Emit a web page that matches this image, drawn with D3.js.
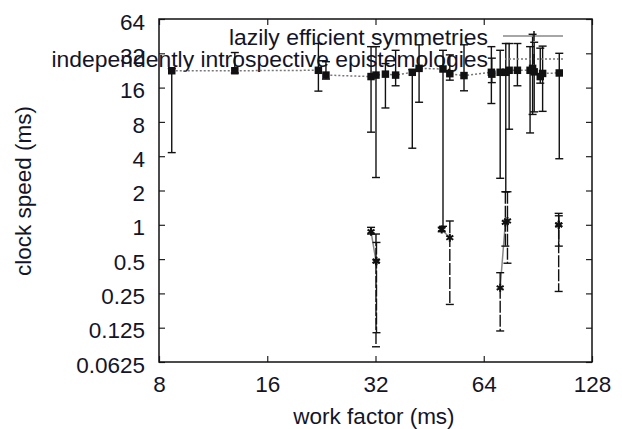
<!DOCTYPE html>
<html>
<head>
<meta charset="utf-8">
<script src="https://cdn.jsdelivr.net/npm/d3@7"></script>
<style>
  body { margin: 0; background: #fff; }
  text { font-family: "Liberation Sans", Arial, sans-serif; fill: #141428; }
</style>
</head>
<body>
<div id="graph"></div>
<script>
// tick values
const xTicks = [8, 16, 32, 64, 128];
const yTicks = [0.0625, 0.125, 0.25, 0.5, 1, 2, 4, 8, 16, 32, 64];

// "independently introspective epistemologies" (squares, dotted line)
const introX  = [8.68, 13.0, 22.2, 23.3, 31.1, 32.1, 34.1, 36.4, 40.5, 42.3, 49.3, 51.5, 56.4, 67.2, 67.4, 71.1, 73.7, 75.3, 79.4, 86.1, 87.5, 88.4, 91.9, 93.3, 103.8];
const introY  = [22.5, 22.5, 22.7, 20.6, 20.0, 20.6, 21.0, 20.6, 21.8, 23.6, 23.3, 21.2, 20.4, 21.8, 21.0, 21.8, 21.8, 22.7, 22.7, 22.7, 23.6, 22.0, 20.0, 21.3, 21.5];
const introHi = [23.5, 32.5, 39, 27, 36.6, 36.6, 26, 34, 23, 38, 34, 31, 38, 36.6, 29, 34, 39, 39, 39, 36.6, 47, 40, 35.5, 37, 32];
const introLo = [4.3, 21.5, 14.9, 19, 6.5, 2.6, 10.6, 16.6, 4.7, 11.9, 0.97, 18.6, 15, 11.6, 17.7, 2.56, 1.95, 6.9, 16.6, 6.4, 9.3, 9.8, 17.5, 9.9, 3.8];

// "lazily efficient symmetries" (solid line, runs separated by blank lines)
const lazyX   = [31.1, 32.1, 32.2, 48.9, 51.5, 71.1, 73.5, 74.5, 103.4, 103.5];
const lazyY   = [0.87, 0.48, 0.48, 0.91, 0.77, 0.28, 1.05, 1.08, 1.0, 1.0];
const lazyHi  = [0.95, 0.83, 0.70, 0.95, 1.08, 0.38, 1.95, 1.95, 1.26, 1.2];
const lazyLo  = [0.83, 0.085, 0.113, 0.87, 0.20, 0.117, 0.65, 0.46, 0.26, 0.65];
const lazyRun = [0, 0, 0, 1, 1, 2, 2, 2, 3, 3];

const labels = ["lazily efficient symmetries", "independently introspective epistemologies"];

let margin = {top: 19, right: 30, bottom: 67, left: 159},
    width = 622 - margin.left - margin.right,
    height = 429 - margin.top - margin.bottom;

let svg = d3.select("#graph").append("svg")
    .attr("width", 622).attr("height", 429)
  .append("g")
    .attr("transform", "translate(" + margin.left + "," + margin.top + ")");

let x = d3.scaleLog().base(2).domain([8, 128]).range([0, width]);
let y = d3.scaleLog().base(2).domain([0.0625, 64]).range([height, 0]);

const fs = "22.5px";

// axes with inward ticks
let gx = svg.append("g").attr("transform", "translate(0," + height + ")")
    .call(d3.axisBottom(x).tickValues(xTicks).tickFormat(d => d).tickSize(-6).tickSizeOuter(0).tickPadding(14));
let gy = svg.append("g")
    .call(d3.axisLeft(y).tickValues(yTicks).tickFormat(d => String(d)).tickSize(-6).tickSizeOuter(0).tickPadding(14));
svg.append("g")
    .call(d3.axisTop(x).tickValues(xTicks).tickFormat("").tickSize(-6).tickSizeOuter(0));
svg.append("g").attr("transform", "translate(" + width + ",0)")
    .call(d3.axisRight(y).tickValues(yTicks).tickFormat("").tickSize(-6).tickSizeOuter(0));

svg.selectAll(".domain").remove();
svg.selectAll(".tick line").attr("stroke", "#222").attr("stroke-width", 1.2);
svg.selectAll(".tick text").style("font-size", fs).attr("fill", "#141428");
gy.selectAll(".tick text").attr("dy", "0.45em");

svg.append("rect").attr("width", width).attr("height", height)
    .attr("fill", "none").attr("stroke", "#111").attr("stroke-width", 1.5);

// axis titles
svg.append("text")
    .attr("transform", "translate(" + (31 - margin.left) + "," + (191 - margin.top) + ") rotate(-90)")
    .attr("text-anchor", "middle").style("font-size", fs)
    .text("clock speed (ms)");
svg.append("text")
    .attr("x", 374 - margin.left).attr("y", 424 - margin.top)
    .attr("text-anchor", "middle").style("font-size", fs)
    .text("work factor (ms)");

// legend text (drawn early so marks sit on top like the original)
svg.append("text").attr("x", 488 - margin.left).attr("y", 45 - margin.top)
    .attr("text-anchor", "end").style("font-size", "22.9px").text(labels[0]);
svg.append("text").attr("x", 488 - margin.left).attr("y", 67 - margin.top)
    .attr("text-anchor", "end").style("font-size", "22.9px").text(labels[1]);

const cap = 4;
function errorBars(g, xs, lo, hi, dash) {
  xs.forEach((xv, i) => {
    let px = x(xv), y1 = y(hi[i]), y2 = y(lo[i]);
    g.append("line").attr("x1", px).attr("x2", px).attr("y1", y1).attr("y2", y2)
      .attr("stroke", "#111").attr("stroke-width", 1.4).attr("stroke-dasharray", dash);
    [y1, y2].forEach(cy => {
      g.append("line").attr("x1", px - cap).attr("x2", px + cap).attr("y1", cy).attr("y2", cy)
        .attr("stroke", "#111").attr("stroke-width", 1.4);
    });
  });
}

// upper series
let intro = introX.map((d, i) => ({x: d, y: introY[i]}));
svg.append("path").datum(intro)
    .attr("fill", "none").attr("stroke", "#777").attr("stroke-width", 1.5)
    .attr("stroke-dasharray", "2,2")
    .attr("d", d3.line().x(d => x(d.x)).y(d => y(d.y)));
errorBars(svg.append("g"), introX, introLo, introHi, null);
svg.append("g").selectAll("path").data(intro).join("path")
    .attr("transform", d => "translate(" + x(d.x) + "," + y(d.y) + ")")
    .attr("d", d3.symbol(d3.symbolSquare, 56))
    .attr("fill", "#111");

// lower series
let lazy = lazyX.map((d, i) => ({x: d, y: lazyY[i], run: lazyRun[i]}));
let runs = d3.groups(lazy, d => d.run).map(g => g[1]);
svg.append("g").selectAll("path").data(runs).join("path")
    .attr("fill", "none").attr("stroke", "#888").attr("stroke-width", 1.5)
    .attr("d", d3.line().x(d => x(d.x)).y(d => y(d.y)));
errorBars(svg.append("g"), lazyX, lazyLo, lazyHi, "12,2");
svg.append("g").selectAll("path").data(lazy).join("path")
    .attr("transform", d => "translate(" + x(d.x) + "," + y(d.y) + ")")
    .attr("d", d3.symbol(d3.symbolAsterisk, 45))
    .attr("fill", "none").attr("stroke", "#111").attr("stroke-width", 2);

// legend samples
let lg = svg.append("g");
lg.append("line").attr("x1", 503 - margin.left).attr("x2", 563 - margin.left)
    .attr("y1", 36 - margin.top).attr("y2", 36 - margin.top)
    .attr("stroke", "#888").attr("stroke-width", 1.5);
lg.append("line").attr("x1", 534 - margin.left).attr("x2", 534 - margin.left)
    .attr("y1", 31 - margin.top).attr("y2", 41 - margin.top)
    .attr("stroke", "#111").attr("stroke-width", 1.5);
lg.append("line").attr("x1", 505 - margin.left).attr("x2", 563 - margin.left)
    .attr("y1", 59 - margin.top).attr("y2", 59 - margin.top)
    .attr("stroke", "#777").attr("stroke-width", 1.5).attr("stroke-dasharray", "2,2");
lg.append("line").attr("x1", 534 - margin.left).attr("x2", 534 - margin.left)
    .attr("y1", 54 - margin.top).attr("y2", 64 - margin.top)
    .attr("stroke", "#111").attr("stroke-width", 1.5);
</script>
</body>
</html>
